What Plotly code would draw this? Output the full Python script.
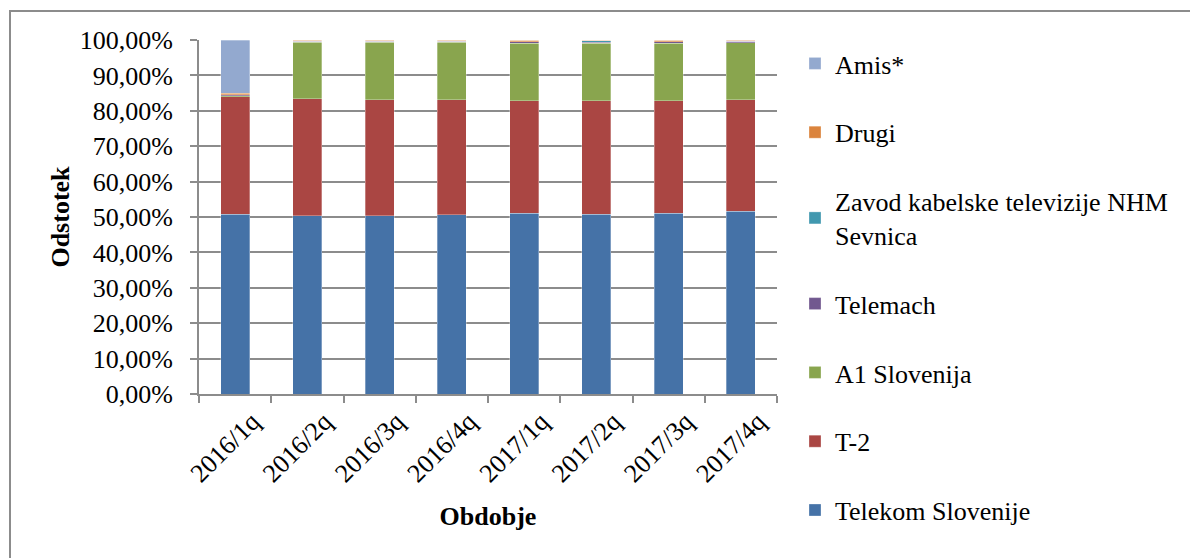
import plotly.graph_objects as go

categories = ["2016/1q", "2016/2q", "2016/3q", "2016/4q", "2017/1q", "2017/2q", "2017/3q", "2017/4q"]

telekom = [0.508, 0.503, 0.503, 0.506, 0.511, 0.508, 0.511, 0.516]
t2 = [0.332, 0.331, 0.328, 0.325, 0.318, 0.321, 0.317, 0.315]
a1 = [0.002, 0.159, 0.162, 0.162, 0.162, 0.162, 0.163, 0.161]
telemach = [0.004, 0.004, 0.004, 0.004, 0.004, 0.002, 0.004, 0.005]
zavod = [0.000, 0.000, 0.000, 0.000, 0.000, 0.005, 0.000, 0.000]
drugi = [0.003, 0.003, 0.003, 0.003, 0.005, 0.002, 0.005, 0.003]
amis = [0.151, 0.000, 0.000, 0.000, 0.000, 0.000, 0.000, 0.000]

series = [
    ("Telekom Slovenije", telekom, "#4572A7"),
    ("T-2", t2, "#AA4643"),
    ("A1 Slovenija", a1, "#89A54E"),
    ("Telemach", telemach, "#71588F"),
    ("Zavod kabelske televizije NHM<br>Sevnica", zavod, "#4198AF"),
    ("Drugi", drugi, "#DB843D"),
    ("Amis*", amis, "#93A9CF"),
]

FONT = "Liberation Serif"
FS = 26

fig = go.Figure()
n = len(series)
for i, (name, vals, color) in enumerate(series):
    fig.add_trace(go.Bar(
        x=categories, y=vals, name=name, legendgroup=str(i), legendrank=n - i,
        marker=dict(color=color, line=dict(color="rgba(255,255,255,0.6)", width=0.5)),
    ))

# plot area in pixels: x 199..777, y 40..394
L, R, T, B = 199, 777, 40, 394
W, H = R - L, B - T
def px(x):
    return (x - L) / W
def py(y):
    return (B - y) / H

fig.add_shape(type="rect", xref="paper", yref="paper",
              x0=px(10), x1=px(1205), y0=py(575), y1=py(11),
              line=dict(color="#8c8c8c", width=2), fillcolor="rgba(0,0,0,0)", layer="below")

fig.update_layout(
    barmode="stack",
    bargap=0.6,
    width=1190, height=558,
    margin=dict(l=L, r=1190 - R, t=T, b=558 - B),
    paper_bgcolor="white", plot_bgcolor="white",
    separators=",.",
    font=dict(family=FONT, size=FS, color="black"),
    legend=dict(
        x=px(795), xanchor="left", y=py(40), yanchor="top",
        traceorder="grouped", tracegroupgap=32,
        font=dict(family=FONT, size=FS, color="black"),
        itemwidth=30, bgcolor="rgba(0,0,0,0)", maxheight=900,
    ),
    xaxis=dict(
        tickangle=-45, tickson="boundaries", ticks="outside", ticklen=7,
        tickcolor="#8c8c8c", tickwidth=2,
        showline=True, linecolor="#8c8c8c", linewidth=2,
        tickfont=dict(family=FONT, size=FS),
        ticklabelshift=17,
        title=dict(text="<b>Obdobje</b>", font=dict(family=FONT, size=FS), standoff=20),
    ),
    yaxis=dict(
        range=[0, 1.0], dtick=0.1, tick0=0, tickformat=".2%",
        ticks="outside", ticklen=7, tickcolor="#8c8c8c", tickwidth=2,
        showline=True, linecolor="#8c8c8c", linewidth=2,
        showgrid=True, gridcolor="#8c8c8c", gridwidth=2,
        zeroline=False,
        tickfont=dict(family=FONT, size=FS),
        ticklabelstandoff=12,
        title=dict(text="<b>Odstotek</b>", font=dict(family=FONT, size=FS), standoff=3),
    ),
)

fig.write_html("out.html", post_script="document.body.style.margin='0';",
               config={"displayModeBar": False})
